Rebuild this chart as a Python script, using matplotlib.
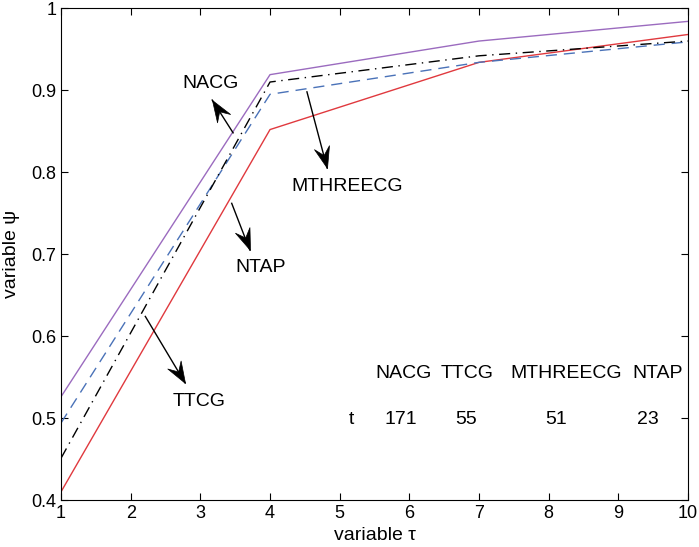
import math
import matplotlib
matplotlib.use('Agg')
import matplotlib.pyplot as plt
from matplotlib.markers import MarkerStyle
from matplotlib.path import Path
from matplotlib.transforms import Affine2D

plt.rcParams['font.family'] = ['Liberation Sans', 'DejaVu Sans']

# data
x = [1, 4, 7, 10]
nacg = [0.526, 0.919, 0.960, 0.984]
mthreecg = [0.451, 0.910, 0.942, 0.960]
ttcg = [0.494, 0.895, 0.934, 0.959]
ntap = [0.410, 0.852, 0.934, 0.968]

table_names = ['NACG', 'TTCG', 'MTHREECG', 'NTAP']
table_vals = ['171', '55', '51', '23']
name_x = [5.91, 6.83, 8.25, 9.57]
val_x = [5.88, 6.82, 8.10, 9.42]

# (label, text pos, arrow tail, arrow head)
notes = [
    ('NACG', (3.15, 0.908), (3.47, 0.848), (3.17, 0.888)),
    ('MTHREECG', (5.11, 0.782), (4.53, 0.898), (4.82, 0.805)),
    ('NTAP', (3.87, 0.684), (3.45, 0.762), (3.71, 0.705)),
    ('TTCG', (2.98, 0.520), (2.21, 0.624), (2.78, 0.543)),
]

fig = plt.figure(figsize=(6.99, 5.47), dpi=100)
ax = fig.add_axes([0.0873, 0.0859, 0.897, 0.899])

ax.plot(x, nacg, color='#9b6bbf', lw=1)
ax.plot(x, ntap, color='#e0393e', lw=1)
ax.plot(x, ttcg, color='#4a72b8', lw=1, dashes=(8, 5))
ax.plot(x, mthreecg, color='k', lw=1, dashes=(8, 4, 1, 4))

ax.set_xlim(1, 10)
ax.set_ylim(0.4, 1.0)

# matlab style concave arrow head, tip at origin pointing along +x
head = Path([(0, 0), (-1, 0.36), (-0.62, 0), (-1, -0.36), (0, 0)],
            [Path.MOVETO, Path.LINETO, Path.LINETO, Path.LINETO, Path.CLOSEPOLY])

for label, tpos, tail, tip in notes:
    ax.plot([tail[0], tip[0]], [tail[1], tip[1]], color='k', lw=1)
    p0 = ax.transData.transform(tail)
    p1 = ax.transData.transform(tip)
    ang = math.degrees(math.atan2(p1[1] - p0[1], p1[0] - p0[0]))
    m = MarkerStyle(head, transform=Affine2D().rotate_deg(ang))
    ax.plot([tip[0]], [tip[1]], marker=m, ms=31, color='k', mec='k', mew=0.5, zorder=5)
    ax.text(tpos[0], tpos[1], label, ha='center', va='center', fontsize=14)

for nx, name in zip(name_x, table_names):
    ax.text(nx, 0.554, name, ha='center', va='center', fontsize=14)
ax.text(5.175, 0.498, 't', ha='center', va='center', fontsize=14)
for vx, v in zip(val_x, table_vals):
    ax.text(vx, 0.498, v, ha='center', va='center', fontsize=14)

ax.set_xticks(range(1, 11))
ax.set_yticks([0.4, 0.5, 0.6, 0.7, 0.8, 0.9, 1.0])
ax.set_yticklabels(['0.4', '0.5', '0.6', '0.7', '0.8', '0.9', '1'])
ax.tick_params(direction='in', top=True, right=True, labelsize=13, length=5)
ax.set_xlabel('variable τ', fontsize=14, labelpad=4)
ax.set_ylabel('variable ψ', fontsize=14, labelpad=8)

fig.savefig('out.png', dpi=100)
